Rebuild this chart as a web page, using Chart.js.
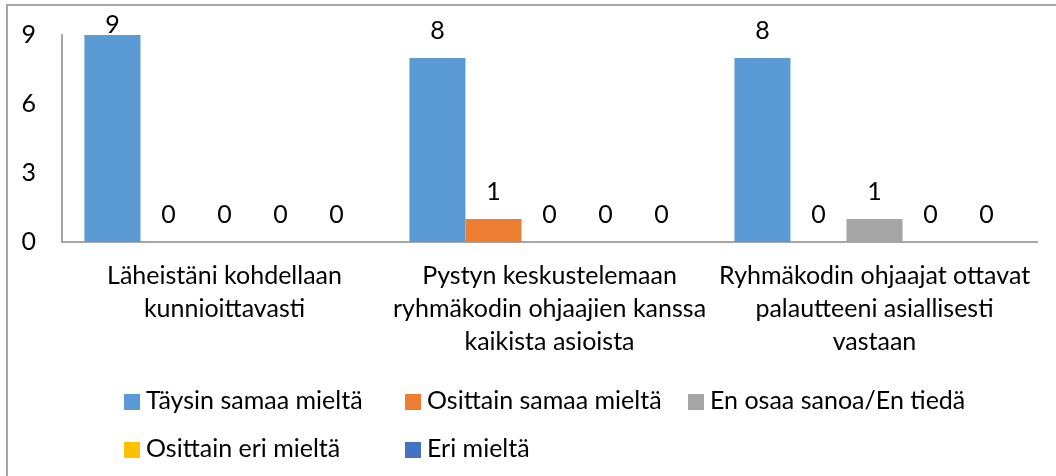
<!DOCTYPE html>
<html>
<head>
<meta charset="utf-8">
<script src="https://cdn.jsdelivr.net/npm/chart.js@4"></script>
<style>
  body { margin: 0; background: #fff; font-family: Lato, sans-serif; }
  #frame { position: absolute; left: 6px; top: 4px; width: 1200px; height: 600px;
           border-left: 2px solid #a6a6a6; border-top: 2px solid #a6a6a6; }
  #wrap { position: absolute; left: 0; top: 0; width: 1056px; height: 476px; overflow: hidden; }
  canvas { position: absolute; left: 0; top: 0; }
  .legItem { position: absolute; font-size: 25px; color: #000; white-space: nowrap; line-height: 26px; }
  .legItem span { display: inline-block; width: 16px; height: 16px; margin-right: 6px; vertical-align: -1px; }
</style>
</head>
<body>
<div id="wrap">
  <div id="frame"></div>
  <canvas id="barChart" width="1056" height="476"></canvas>
  <div id="legend"></div>
</div>
<script>
var categories = [
    ["Läheistäni kohdellaan", "kunnioittavasti"],
    ["Pystyn keskustelemaan", "ryhmäkodin ohjaajien kanssa", "kaikista asioista"],
    ["Ryhmäkodin ohjaajat ottavat", "palautteeni asiallisesti", "vastaan"]
];
var seriesNames = ["Täysin samaa mieltä", "Osittain samaa mieltä", "En osaa sanoa/En tiedä", "Osittain eri mieltä", "Eri mieltä"];
var taysinSamaa = [9, 8, 8];
var osittainSamaa = [0, 1, 0];
var enOsaa = [0, 0, 1];
var osittainEri = [0, 0, 0];
var eriMielta = [0, 0, 0];
var yTicks = [0, 3, 6, 9];

var colors = ['#5B9BD5', '#ED7D31', '#A5A5A5', '#FFC000', '#4472C4'];
var seriesData = [taysinSamaa, osittainSamaa, enOsaa, osittainEri, eriMielta];
var fontFamily = 'Lato, sans-serif';

// value labels above each bar
var valueLabels = {
    id: 'valueLabels',
    afterDatasetsDraw: function (chart) {
        var ctx = chart.ctx;
        ctx.save();
        ctx.font = '25px ' + fontFamily;
        ctx.fillStyle = '#000';
        ctx.textAlign = 'center';
        ctx.textBaseline = 'middle';
        chart.data.datasets.forEach(function (ds, i) {
            chart.getDatasetMeta(i).data.forEach(function (bar, j) {
                ctx.fillText(ds.data[j], bar.x, Math.max(bar.y - 27, 25));
            });
        });
        ctx.restore();
    }
};

var ctx = document.getElementById("barChart").getContext('2d');
var myBarChart = new Chart(ctx, {
    type: 'bar',
    data: {
        labels: categories,
        datasets: seriesNames.map(function (name, i) {
            return {
                label: name,
                data: seriesData[i],
                backgroundColor: colors[i],
                borderWidth: 0,
                categoryPercentage: 0.862,
                barPercentage: 1
            };
        })
    },
    options: {
        responsive: false,
        animation: false,
        layout: { padding: { left: 6, top: 35, right: 19, bottom: 0 } },
        plugins: {
            legend: { display: false },
            tooltip: { enabled: false }
        },
        scales: {
            x: {
                grid: { display: false, drawTicks: false },
                border: { display: true, color: '#a6a6a6', width: 2 },
                ticks: {
                    color: '#000',
                    font: { family: fontFamily, size: 25, lineHeight: 1.32 },
                    padding: 17,
                    autoSkip: false,
                    maxRotation: 0
                },
                afterFit: function (s) { s.height = 234; s.paddingLeft = 0; s.paddingRight = 0; }
            },
            y: {
                min: 0,
                max: 9,
                grid: { display: false, drawTicks: false },
                border: { display: true, color: '#a6a6a6', width: 2 },
                afterBuildTicks: function (s) { s.ticks = yTicks.map(function (v) { return { value: v }; }); },
                ticks: {
                    color: '#000',
                    font: { family: fontFamily, size: 25 },
                    padding: 26
                },
                afterFit: function (s) { s.width = 56; s.paddingTop = 0; s.paddingBottom = 0; }
            }
        }
    },
    plugins: [valueLabels]
});

// legend laid out in fixed columns, like the original
var legendPos = [[124, 399], [405, 399], [688, 399], [124, 447], [405, 447]];
var legend = document.getElementById('legend');
seriesNames.forEach(function (name, i) {
    var item = document.createElement('div');
    item.className = 'legItem';
    item.style.left = legendPos[i][0] + 'px';
    item.style.top = (legendPos[i][1] - 13) + 'px';
    item.innerHTML = '<span style="background:' + colors[i] + '"></span>' + name;
    legend.appendChild(item);
});
</script>
</body>
</html>
